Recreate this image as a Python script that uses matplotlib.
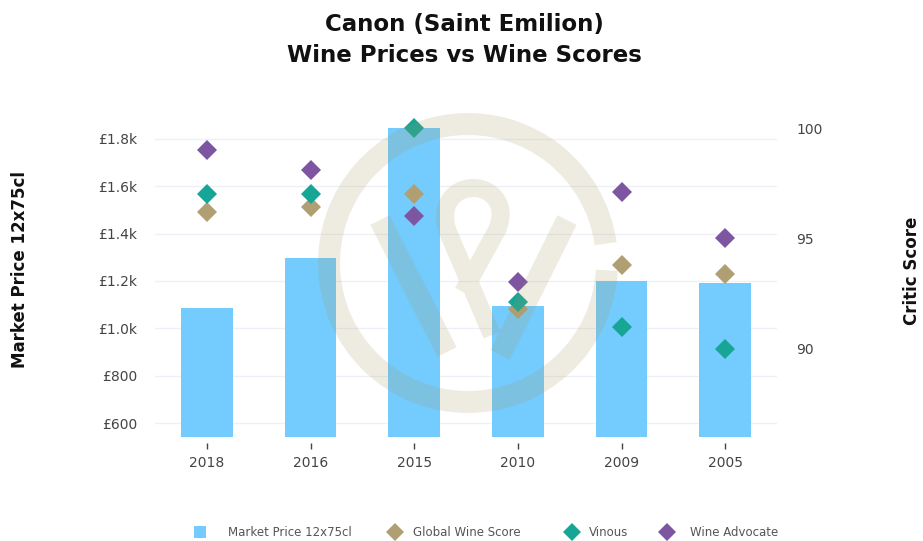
import numpy as np
import matplotlib
matplotlib.use('Agg')
from matplotlib import pyplot as plt
from matplotlib.patches import Wedge, PathPatch
from matplotlib.path import Path
from matplotlib.lines import Line2D

# data
vintages = ['2018', '2016', '2015', '2010', '2009', '2005']
market_price = [1085, 1296, 1846, 1093, 1200, 1190]
global_wine_score = [96.2, 96.4, 97.0, 91.8, 93.8, 93.4]
vinous = [97, 97, 100, 92.1, 91, 90]
wine_advocate = [99, 98.1, 96, 93, 97.1, 95]

price_ticks = [600, 800, 1000, 1200, 1400, 1600, 1800]
price_labels = ['£600', '£800', '£1.0k', '£1.2k', '£1.4k', '£1.6k', '£1.8k']
score_ticks = [90, 95, 100]
legend_labels = ['Market Price 12x75cl', 'Global Wine Score', 'Vinous', 'Wine Advocate']

BAR_COL = '#74cbfd'
GWS_COL = '#b09f72'
VIN_COL = '#17a596'
WA_COL = '#7e55a0'
TXT = '#444444'

fig = plt.figure(figsize=(9.23, 5.41), dpi=100)
ax = fig.add_axes([155/923, 104/541, 622/923, 322/541])
ax2 = ax.twinx()

x = np.arange(len(vintages))
ax.bar(x, market_price, width=0.5, color=BAR_COL, zorder=2)
ax.set_ylim(541, 1901)
ax.set_xlim(-0.5, len(vintages) - 0.5)
ax.set_yticks(price_ticks)
ax.set_yticklabels(price_labels)
ax.grid(axis='y', color='#edf1f7', lw=1, zorder=0)
ax.set_axisbelow(True)
ax.set_xticks(x)
ax.set_xticklabels(vintages)
ax.tick_params(axis='y', length=0, pad=13, labelsize=10, labelcolor=TXT)
ax.tick_params(axis='x', length=4.5, width=1, color=TXT, pad=5, labelsize=10, labelcolor=TXT)
for s in ax.spines.values():
    s.set_visible(False)
ax.spines['bottom'].set_position(('outward', 4.5))

ms = 10
ax2.plot(x, global_wine_score, 'D', color=GWS_COL, ms=ms, mew=0)
ax2.plot(x, vinous, 'D', color=VIN_COL, ms=ms, mew=0)
ax2.plot(x, wine_advocate, 'D', color=WA_COL, ms=ms, mew=0)
ax2.set_ylim(85.99, 100.59)
ax2.set_yticks(score_ticks)
ax2.tick_params(axis='y', length=0, pad=14, labelsize=10, labelcolor=TXT)
for s in ax2.spines.values():
    s.set_visible(False)

# axis titles
fig.text(20/923, 1 - 270/541, 'Market Price 12x75cl', rotation=90, ha='center', va='center',
         fontsize=12, fontweight='bold', color='#111111')
fig.text(912/923, 1 - 271/541, 'Critic Score', rotation=90, ha='center', va='center',
         fontsize=12, fontweight='bold', color='#111111')

fig.suptitle('Canon (Saint Emilion)\nWine Prices vs Wine Scores', x=464/923, y=1 - 40/541,
             va='center', fontsize=16.5, fontweight='bold', color='#111111', linespacing=1.44)

# watermark logo (pixel coords, y down)
tr = fig.dpi_scale_trans
def px(a, b):
    return (a / 100, (541 - b) / 100)

wm_col = '#a5955e'
wm_alpha = 0.18
ring = Wedge(px(468, 263), 1.50, 8, 357, width=0.22, transform=tr, lw=0,
             color=wm_col, alpha=wm_alpha, zorder=10)
fig.add_artist(ring)
arms = Path([px(380, 220), px(447, 352), px(567, 220), px(500, 355)],
            [Path.MOVETO, Path.LINETO, Path.MOVETO, Path.LINETO])
fig.add_artist(PathPatch(arms, transform=tr, fill=False, lw=15.5, capstyle='butt',
                         edgecolor=wm_col, alpha=wm_alpha, zorder=10))
loop = Path([px(492, 335), px(448, 232),
             px(438, 205), px(455, 188), px(473, 188),
             px(492, 188), px(508, 205), px(497, 230),
             px(463, 292)],
            [Path.MOVETO, Path.LINETO, Path.CURVE4, Path.CURVE4, Path.CURVE4,
             Path.CURVE4, Path.CURVE4, Path.CURVE4, Path.LINETO])
fig.add_artist(PathPatch(loop, transform=tr, fill=False, lw=13, capstyle='butt',
                         edgecolor=wm_col, alpha=wm_alpha, zorder=10))

# legend along the bottom edge
leg_colors = [BAR_COL, GWS_COL, VIN_COL, WA_COL]
leg_markers = ['s', 'D', 'D', 'D']
leg_marker_x = [200, 395, 572, 667]
leg_text_x = [228, 413, 589, 690]
leg_y = 1 - 532/541
for lab, c, m, mx, tx in zip(legend_labels, leg_colors, leg_markers, leg_marker_x, leg_text_x):
    fig.add_artist(Line2D([mx/923], [leg_y], transform=fig.transFigure, ls='none',
                          marker=m, ms=9, color=c, mew=0))
    fig.text(tx/923, leg_y, lab, ha='left', va='center', fontsize=8.5, color='#555555')

plt.savefig('out.png', dpi=100)
